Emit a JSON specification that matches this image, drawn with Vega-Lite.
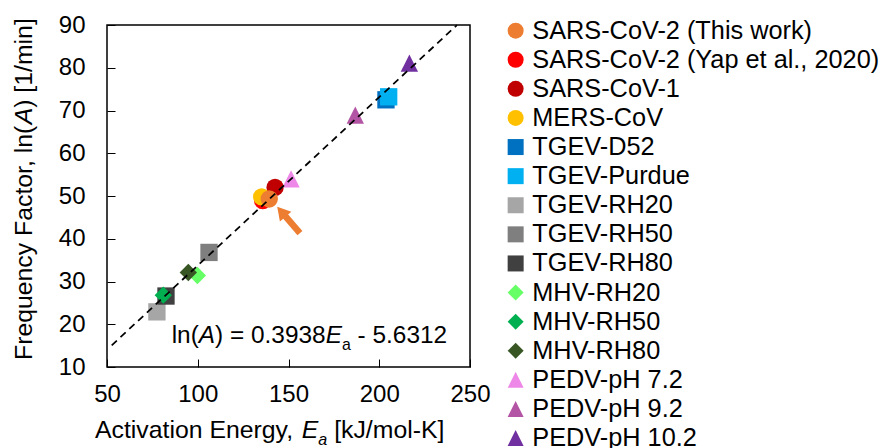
{
  "$schema": "https://vega.github.io/schema/vega-lite/v6.json",
  "width": 363,
  "height": 342,
  "autosize": {"type": "none"},
  "padding": {"left": 107, "top": 25, "right": 410, "bottom": 81},
  "background": "white",
  "config": {
    "view": {"stroke": "#000", "strokeWidth": 1.5},
    "font": "Liberation Sans",
    "axis": {
      "domain": false, "grid": false, "ticks": true, "tickSize": -8, "tickColor": "#000", "tickWidth": 1,
      "labelFont": "Liberation Sans", "labelFontSize": 24, "labelColor": "#000",
      "labelFlush": false, "labelOverlap": false
    }
  },
  "datasets": {
    "pts": [
      {"series": "TGEV-RH20", "Ea": 77.5, "lnA": 22.9},
      {"series": "TGEV-RH80", "Ea": 82.5, "lnA": 26.6},
      {"series": "MHV-RH50", "Ea": 81.0, "lnA": 26.8},
      {"series": "TGEV-RH50", "Ea": 106.2, "lnA": 36.8},
      {"series": "MHV-RH20", "Ea": 99.8, "lnA": 31.4},
      {"series": "MHV-RH80", "Ea": 94.8, "lnA": 32.1},
      {"series": "SARS-CoV-1", "Ea": 142.6, "lnA": 52.0},
      {"series": "SARS-CoV-2 (Yap et al., 2020)", "Ea": 135.8, "lnA": 48.9},
      {"series": "MERS-CoV", "Ea": 135.2, "lnA": 49.8},
      {"series": "SARS-CoV-2 (This work)", "Ea": 139.4, "lnA": 49.3},
      {"series": "PEDV-pH 7.2", "Ea": 151.4, "lnA": 54.0},
      {"series": "PEDV-pH 9.2", "Ea": 186.8, "lnA": 68.9},
      {"series": "TGEV-D52", "Ea": 203.7, "lnA": 72.5},
      {"series": "TGEV-Purdue", "Ea": 205.2, "lnA": 73.2},
      {"series": "PEDV-pH 10.2", "Ea": 216.6, "lnA": 81.1}
    ],
    "fit": [
      {"Ea": 52.6, "lnA": 15.08},
      {"Ea": 242.8, "lnA": 89.98}
    ]
  },
  "layer": [
    {
      "data": {"name": "pts"},
      "mark": {"type": "point", "filled": true, "opacity": 1, "size": 300, "strokeWidth": 0},
      "encoding": {
        "x": {"field": "Ea", "type": "quantitative", "scale": {"domain": [50, 250], "nice": false, "zero": false},
              "axis": {"values": [50, 100, 150, 200, 250], "title": null, "labelPadding": 23}},
        "y": {"field": "lnA", "type": "quantitative", "scale": {"domain": [10, 90], "nice": false, "zero": false},
              "axis": {"values": [10, 20, 30, 40, 50, 60, 70, 80, 90], "title": null, "labelPadding": 30}},
        "color": {
          "field": "series", "type": "nominal",
          "scale": {
            "domain": ["SARS-CoV-2 (This work)", "SARS-CoV-2 (Yap et al., 2020)", "SARS-CoV-1", "MERS-CoV", "TGEV-D52", "TGEV-Purdue", "TGEV-RH20", "TGEV-RH50", "TGEV-RH80", "MHV-RH20", "MHV-RH50", "MHV-RH80", "PEDV-pH 7.2", "PEDV-pH 9.2", "PEDV-pH 10.2"],
            "range": ["#ED7D31", "#FF0000", "#C00000", "#FFC000", "#0070C0", "#00B0F0", "#A6A6A6", "#7F7F7F", "#404040", "#66FF66", "#00B050", "#375623", "#EE88E8", "#B454A4", "#7030A0"]
          },
          "legend": {"title": null, "orient": "none", "legendX": 396, "legendY": -7, "labelFont": "Liberation Sans", "labelFontSize": 25.3, "labelColor": "#000", "labelLimit": 600, "symbolSize": 256, "labelOffset": 4, "rowPadding": 3.1, "padding": 0, "symbolStrokeWidth": 0, "symbolOpacity": 1}
        },
        "shape": {
          "field": "series", "type": "nominal",
          "scale": {
            "domain": ["SARS-CoV-2 (This work)", "SARS-CoV-2 (Yap et al., 2020)", "SARS-CoV-1", "MERS-CoV", "TGEV-D52", "TGEV-Purdue", "TGEV-RH20", "TGEV-RH50", "TGEV-RH80", "MHV-RH20", "MHV-RH50", "MHV-RH80", "PEDV-pH 7.2", "PEDV-pH 9.2", "PEDV-pH 10.2"],
            "range": ["circle", "circle", "circle", "circle", "square", "square", "square", "square", "square", "diamond", "diamond", "diamond", "M0,-1L1,1L-1,1Z", "M0,-1L1,1L-1,1Z", "M0,-1L1,1L-1,1Z"]
          },
          "legend": {"title": null, "orient": "none", "legendX": 396, "legendY": -7, "labelFont": "Liberation Sans", "labelFontSize": 25.3, "labelColor": "#000", "labelLimit": 600, "symbolSize": 256, "labelOffset": 4, "rowPadding": 3.1, "padding": 0, "symbolStrokeWidth": 0, "symbolOpacity": 1}
        }
      }
    },
    {
      "data": {"name": "fit"},
      "mark": {"type": "line", "color": "#000", "strokeWidth": 1.75, "strokeDash": [7, 5]},
      "encoding": {
        "x": {"field": "Ea", "type": "quantitative"},
        "y": {"field": "lnA", "type": "quantitative"}
      }
    },
    {
      "data": {"values": [{}]},
      "mark": {"type": "rule", "color": "#ED7D31", "strokeWidth": 6.5},
      "encoding": {
        "x": {"datum": 156.3, "type": "quantitative"},
        "y": {"datum": 41.3, "type": "quantitative"},
        "x2": {"datum": 146.1},
        "y2": {"datum": 46.35}
      }
    },
    {
      "data": {"values": [{}]},
      "mark": {"type": "point", "shape": "triangle-up", "filled": true, "opacity": 1, "color": "#ED7D31", "size": 225, "angle": 319.5, "strokeWidth": 0},
      "encoding": {
        "x": {"datum": 146.1, "type": "quantitative"},
        "y": {"datum": 46.35, "type": "quantitative"}
      }
    },
    {"data": {"values": [{}]}, "mark": {"type": "text", "text": "ln(", "align": "left", "baseline": "alphabetic", "fontSize": 24.4, "color": "#000", "dx": 0},
     "encoding": {"x": {"datum": 85.65, "type": "quantitative"}, "y": {"datum": 15.54, "type": "quantitative"}}},
    {"data": {"values": [{}]}, "mark": {"type": "text", "text": "A", "align": "left", "baseline": "alphabetic", "fontSize": 24.4, "fontStyle": "italic", "color": "#000", "dx": 27.1},
     "encoding": {"x": {"datum": 85.65, "type": "quantitative"}, "y": {"datum": 15.54, "type": "quantitative"}}},
    {"data": {"values": [{}]}, "mark": {"type": "text", "text": ") = 0.3938", "align": "left", "baseline": "alphabetic", "fontSize": 24.4, "color": "#000", "dx": 43.4},
     "encoding": {"x": {"datum": 85.65, "type": "quantitative"}, "y": {"datum": 15.54, "type": "quantitative"}}},
    {"data": {"values": [{}]}, "mark": {"type": "text", "text": "E", "align": "left", "baseline": "alphabetic", "fontSize": 24.4, "fontStyle": "italic", "color": "#000", "dx": 154.0},
     "encoding": {"x": {"datum": 85.65, "type": "quantitative"}, "y": {"datum": 15.54, "type": "quantitative"}}},
    {"data": {"values": [{}]}, "mark": {"type": "text", "text": "a", "align": "left", "baseline": "alphabetic", "fontSize": 15.9, "color": "#000", "dx": 170.3, "dy": 6.5},
     "encoding": {"x": {"datum": 85.65, "type": "quantitative"}, "y": {"datum": 15.54, "type": "quantitative"}}},
    {"data": {"values": [{}]}, "mark": {"type": "text", "text": "- 5.6312", "align": "left", "baseline": "alphabetic", "fontSize": 24.4, "color": "#000", "dx": 185.9},
     "encoding": {"x": {"datum": 85.65, "type": "quantitative"}, "y": {"datum": 15.54, "type": "quantitative"}}},
    {"data": {"values": [{}]}, "mark": {"type": "text", "text": "Activation Energy,", "align": "left", "baseline": "alphabetic", "fontSize": 24.8, "color": "#000", "dx": 0},
     "encoding": {"x": {"datum": 43.39, "type": "quantitative"}, "y": {"datum": -6.61, "type": "quantitative"}}},
    {"data": {"values": [{}]}, "mark": {"type": "text", "text": "E", "align": "left", "baseline": "alphabetic", "fontSize": 24.8, "fontStyle": "italic", "color": "#000", "dx": 206.8},
     "encoding": {"x": {"datum": 43.39, "type": "quantitative"}, "y": {"datum": -6.61, "type": "quantitative"}}},
    {"data": {"values": [{}]}, "mark": {"type": "text", "text": "a", "align": "left", "baseline": "alphabetic", "fontSize": 16.1, "fontStyle": "italic", "color": "#000", "dx": 223.3, "dy": 7},
     "encoding": {"x": {"datum": 43.39, "type": "quantitative"}, "y": {"datum": -6.61, "type": "quantitative"}}},
    {"data": {"values": [{}]}, "mark": {"type": "text", "text": "[kJ/mol-K]", "align": "left", "baseline": "alphabetic", "fontSize": 24.8, "color": "#000", "dx": 239.15},
     "encoding": {"x": {"datum": 43.39, "type": "quantitative"}, "y": {"datum": -6.61, "type": "quantitative"}}},
    {"data": {"values": [{}]}, "mark": {"type": "text", "text": "Frequency Factor, ln(", "align": "left", "baseline": "alphabetic", "angle": 270, "fontSize": 24.8, "color": "#000", "dx": 0},
     "encoding": {"x": {"datum": 8.95, "type": "quantitative"}, "y": {"datum": 11.64, "type": "quantitative"}}},
    {"data": {"values": [{}]}, "mark": {"type": "text", "text": "A", "align": "left", "baseline": "alphabetic", "angle": 270, "fontSize": 24.8, "fontStyle": "italic", "color": "#000", "dx": 235.7},
     "encoding": {"x": {"datum": 8.95, "type": "quantitative"}, "y": {"datum": 11.64, "type": "quantitative"}}},
    {"data": {"values": [{}]}, "mark": {"type": "text", "text": ") [1/min]", "align": "left", "baseline": "alphabetic", "angle": 270, "fontSize": 24.8, "color": "#000", "dx": 252.2},
     "encoding": {"x": {"datum": 8.95, "type": "quantitative"}, "y": {"datum": 11.64, "type": "quantitative"}}}
  ]
}
